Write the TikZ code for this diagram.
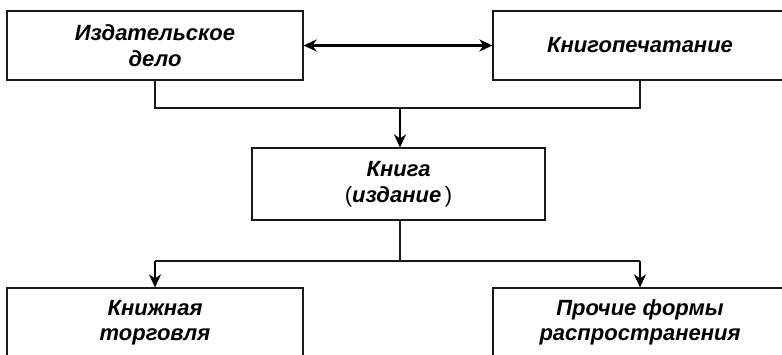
\documentclass[tikz,border=0pt]{standalone}
\usepackage{fontspec}
\setmainfont{Liberation Sans}
\usetikzlibrary{arrows.meta,positioning}

\begin{document}
\begin{tikzpicture}[
    x=1pt, y=-1pt,
    >={Stealth[length=13pt,width=12pt,inset=4pt]},
    box/.style={draw=black!90, line width=1.2pt, minimum width=296pt, minimum height=69pt, align=center, inner sep=0pt, font=\fontsize{22}{25.5}\selectfont\bfseries\itshape},
    link/.style={black!90, line width=1.3pt},
    arr/.style={->, line width=2.1pt, black},
]
\clip (0,0) rectangle (782,355);

% Upper row
\node[box] (izd) at (155,45.5) {Издательское\\дело};
\node[box, minimum width=294pt] (pech) at (640,45.5) {Книгопечатание};

% Middle
\node[box, minimum width=293pt, minimum height=72pt] (kniga) at (398.5,184) {Книга\\{\normalfont(}издание{\normalfont\,)}};

% Lower row
\node[box] (torg) at (155,322.5) {Книжная\\торговля};
\node[box, minimum width=294pt] (proch) at (640,322.5) {Прочие формы\\распространения};

% Junction points
\coordinate (top) at (400,108);
\coordinate (bot) at (400,261);
\coordinate (tl) at (torg.north |- bot);
\coordinate (tr) at (proch.north |- bot);

% Arrows - upper row
\draw[arr, <->] (izd.east) -- (pech.west);
\draw[link] (izd.south) |- (top) -| (pech.south);
\draw[arr] (top) -- (kniga.north -| top);

% Arrows - lower row
\draw[link] (kniga.south -| bot) -- (bot);
\draw[link] (tl) -- (tr);
\draw[arr] (tl) -- (torg.north);
\draw[arr] (tr) -- (proch.north);

\end{tikzpicture}
\end{document}
